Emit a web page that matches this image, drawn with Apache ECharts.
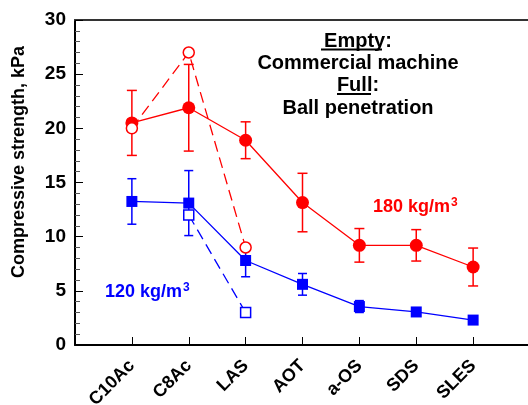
<!DOCTYPE html>
<html>
<head>
<meta charset="utf-8">
<script src="https://cdn.jsdelivr.net/npm/echarts@6/dist/echarts.min.js"></script>
<style>
  html, body { margin: 0; padding: 0; background: #fff; overflow: hidden; }
  #chart { width: 528px; height: 405px; }
</style>
</head>
<body>
<div id="chart"></div>
<script>
// Surfactants along the x axis
const categories = ['C10Ac', 'C8Ac', 'LAS', 'AOT', 'a-OS', 'SDS', 'SLES'];

// 180 kg/m3 foams: ball penetration (filled) and commercial machine (open)
const full180 = [20.5, 21.9, 18.9, 13.15, 9.2, 9.2, 7.2];
const err180 = [3.0, 4.0, 1.7, 2.7, 1.55, 1.45, 1.75];
const empty180 = [20.0, 27.0, 9.0, null, null, null, null];

// 120 kg/m3 foams
const full120 = [13.25, 13.1, 7.8, 5.6, 3.55, 3.05, 2.3];
const err120 = [2.1, 3.0, 1.5, 1.0, 0.55, 0.25, 0.15];
const empty120 = [null, 12.0, 3.0, null, null, null, null];

// y axis ticks
const yTicks = { min: 0, max: 30, step: 5 };

const RED = '#ff0000';
const BLUE = '#0000ff';
const FONT = "'Liberation Sans', Arial, Helvetica, sans-serif";

function points(vals) {
  return vals.map((v, i) => (v == null ? null : [i + 1, v])).filter(p => p);
}

function errorBars(vals, errs, color, capWidth) {
  return {
    type: 'custom',
    z: 1,
    silent: true,
    renderItem(params, api) {
      const x = api.value(0), y = api.value(1), e = api.value(2);
      const top = api.coord([x, y + e]);
      const bot = api.coord([x, y - e]);
      const hw = capWidth / 2;
      const st = { stroke: color, lineWidth: 1.5 };
      return {
        type: 'group',
        children: [
          { type: 'line', shape: { x1: top[0], y1: top[1], x2: bot[0], y2: bot[1] }, style: st },
          { type: 'line', shape: { x1: top[0] - hw, y1: top[1], x2: top[0] + hw, y2: top[1] }, style: st },
          { type: 'line', shape: { x1: bot[0] - hw, y1: bot[1], x2: bot[0] + hw, y2: bot[1] }, style: st }
        ]
      };
    },
    data: vals.map((v, i) => [i + 1, v, errs[i]])
  };
}

function solidLine(vals, color, symbol, size) {
  return {
    type: 'line',
    z: 2,
    data: points(vals),
    symbol: symbol,
    symbolSize: size,
    lineStyle: { color: color, width: 1.3 },
    itemStyle: { color: color, borderColor: color, borderWidth: 0 },
    silent: true
  };
}

function dashedLine(vals, color, symbol, size) {
  return {
    type: 'line',
    z: 3,
    data: points(vals),
    symbol: symbol,
    symbolSize: size,
    lineStyle: { color: color, width: 1.3, type: [11, 6] },
    itemStyle: { color: '#fff', borderColor: color, borderWidth: 1.5 },
    silent: true
  };
}

// density label with a raised "3"
function densityLabel(text, x, y, color) {
  return {
    type: 'text', x: x, y: y,
    style: {
      text: '{a|' + text + '}{s|3}',
      align: 'left', verticalAlign: 'middle',
      rich: {
        a: { fill: color, font: 'bold 18px ' + FONT, lineHeight: 20 },
        s: { fill: color, font: 'bold 12px ' + FONT, lineHeight: 20, verticalAlign: 'top', padding: [0, 0, 0, 1] }
      }
    }
  };
}

const chart = echarts.init(document.getElementById('chart'), null, { renderer: 'canvas' });

// the plot runs on past the right edge of the canvas
const xMax = 8.4;

const xBase = {
  type: 'value',
  min: 0, max: xMax, interval: 1,
  splitLine: { show: false }
};

chart.setOption({
  animation: false,
  backgroundColor: '#fff',
  textStyle: { fontFamily: FONT },
  grid: { left: 75, top: 20, width: 455 * xMax / 8, height: 325, outerBoundsMode: 'none', containLabel: false },
  xAxis: [
    Object.assign({}, xBase, {
      position: 'bottom',
      axisLine: { show: true, lineStyle: { color: '#000', width: 2 } },
      axisTick: { show: true, inside: true, length: 8, lineStyle: { color: '#000', width: 1 } },
      axisLabel: {
        rotate: 45,
        margin: 18,
        color: '#000',
        fontSize: 18,
        fontWeight: 'bold',
        fontFamily: FONT,
        showMaxLabel: false,
        formatter: v => categories[v - 1] || ''
      }
    }),
    // top frame line
    Object.assign({}, xBase, {
      position: 'top',
      axisLine: { show: true, onZero: false, lineStyle: { color: '#333', width: 2 } },
      axisTick: { show: false },
      axisLabel: { show: false }
    })
  ],
  yAxis: {
    type: 'value',
    min: yTicks.min, max: yTicks.max, interval: yTicks.step,
    axisLine: { show: true, lineStyle: { color: '#000', width: 2 } },
    axisTick: { show: true, inside: true, length: 8, lineStyle: { color: '#000', width: 1 } },
    minorTick: { show: true, splitNumber: 5, length: 5, lineStyle: { color: '#555', width: 1 } },
    splitLine: { show: false },
    axisLabel: {
      margin: 9,
      color: '#000',
      fontSize: 19,
      fontWeight: 'bold',
      fontFamily: FONT
    }
  },
  graphic: [
    {
      type: 'text', x: 19, y: 162, rotation: Math.PI / 2,
      style: {
        text: 'Compressive strength, kPa', fill: '#000',
        font: 'bold 18px ' + FONT, align: 'center', verticalAlign: 'middle'
      }
    },
    { type: 'text', x: 358, y: 41, style: { text: 'Empty:', fill: '#000', font: 'bold 20px ' + FONT, align: 'center', verticalAlign: 'middle' } },
    { type: 'line', shape: { x1: 321, y1: 49.5, x2: 382, y2: 49.5 }, style: { stroke: '#000', lineWidth: 2 } },
    { type: 'text', x: 358, y: 63, style: { text: 'Commercial machine', fill: '#000', font: 'bold 20px ' + FONT, align: 'center', verticalAlign: 'middle' } },
    { type: 'text', x: 358, y: 85.5, style: { text: 'Full:', fill: '#000', font: 'bold 20px ' + FONT, align: 'center', verticalAlign: 'middle' } },
    { type: 'line', shape: { x1: 337, y1: 94, x2: 371, y2: 94 }, style: { stroke: '#000', lineWidth: 2 } },
    { type: 'text', x: 358, y: 108, style: { text: 'Ball penetration', fill: '#000', font: 'bold 20px ' + FONT, align: 'center', verticalAlign: 'middle' } },
    densityLabel('180 kg/m', 373, 207, RED),
    densityLabel('120 kg/m', 105, 292, BLUE),
    // keep the open right side of the frame clear
    { type: 'rect', z: 100, shape: { x: 521, y: 22, width: 8, height: 321 }, style: { fill: '#fff' }, silent: true }
  ],
  series: [
    errorBars(full180, err180, RED, 10),
    errorBars(full120, err120, BLUE, 9),
    solidLine(full180, RED, 'circle', 13),
    solidLine(full120, BLUE, 'rect', 11),
    dashedLine(empty180, RED, 'circle', 11),
    dashedLine(empty120, BLUE, 'rect', 10)
  ]
});
</script>
</body>
</html>
